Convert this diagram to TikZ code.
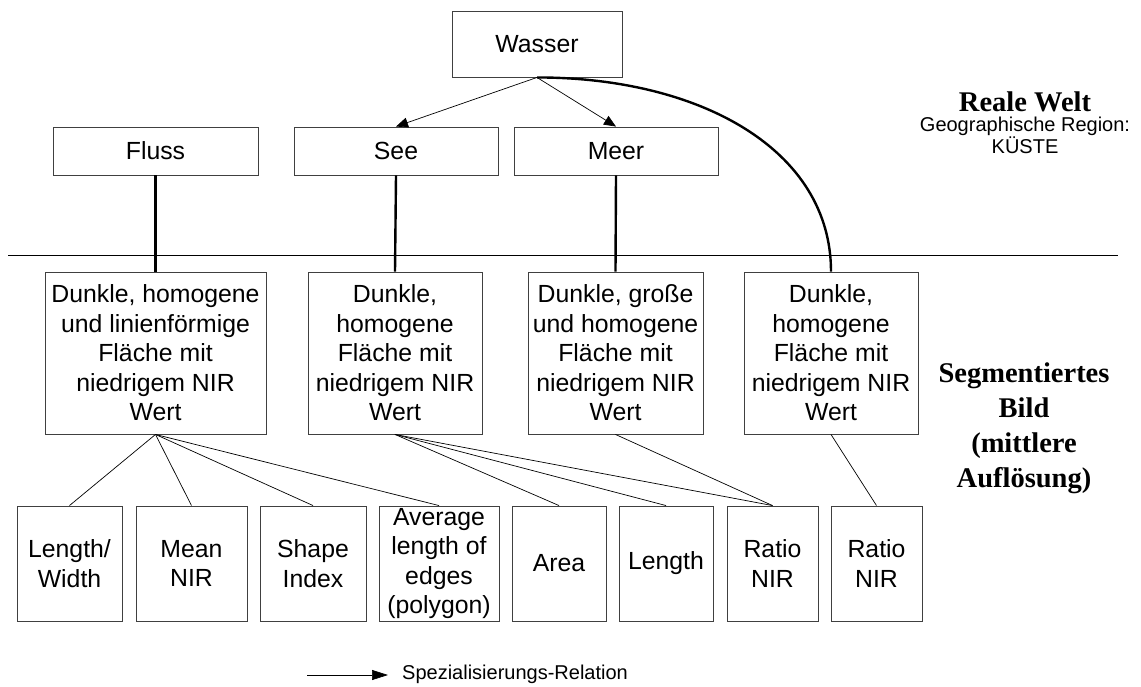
\documentclass[tikz,border=0pt]{standalone}
\usepackage{fontspec}
\setmainfont{Liberation Sans}
\newfontfamily\tnr{Liberation Serif}
\usetikzlibrary{arrows.meta,calc}
\tikzset{
  box/.style={draw=black!75, line width=0.9pt, inner sep=0pt, align=center,
    font=\fontsize{24.8}{29.5}\selectfont},
  conn/.style={draw=black, line width=0.7pt},
  thickconn/.style={draw=black, line width=2.4pt},
  spec/.style={draw=black, line width=0.7pt, -{Triangle[length=12pt,width=10pt]}},
}
\begin{document}
\begin{tikzpicture}[x=1pt,y=-1pt]
\useasboundingbox (0,0) rectangle (1141,686);
% top row
\node[box, minimum width=170pt, minimum height=66pt] (wasser) at (537,44) {Wasser};
\node[box, minimum width=205pt, minimum height=48pt] (fluss) at (155.5,151) {Fluss};
\node[box, minimum width=204pt, minimum height=48pt] (see) at (396,151) {See};
\node[box, minimum width=204pt, minimum height=48pt] (meer) at (616,151) {Meer};
% separator
\coordinate (sepL) at (8,255);
\coordinate (sepR) at (1118,255);
\draw[conn] (sepL) -- (sepR);
% middle row
\node[box, minimum width=221pt, minimum height=162pt] (m1) at (155.5,353)
  {Dunkle, homogene\\und linienförmige\\Fläche mit\\niedrigem NIR\\Wert};
\node[box, minimum width=174pt, minimum height=162pt] (m2) at (395,353)
  {Dunkle,\\homogene\\Fläche mit\\niedrigem NIR\\Wert};
\node[box, minimum width=175pt, minimum height=162pt] (m3) at (615.5,353)
  {Dunkle, große\\und homogene\\Fläche mit\\niedrigem NIR\\Wert};
\node[box, minimum width=174pt, minimum height=162pt] (m4) at (831,353)
  {Dunkle,\\homogene\\Fläche mit\\niedrigem NIR\\Wert};
% bottom row
\node[box, minimum width=105pt, minimum height=115pt] (b1) at (69.5,563.5) {Length/\\Width};
\node[box, minimum width=111pt, minimum height=115pt] (b2) at (191.5,563.5) {Mean\\NIR};
\node[box, minimum width=106pt, minimum height=115pt] (b3) at (313,563.5) {Shape\\Index};
\node[box, minimum width=120pt, minimum height=115pt] (b4) at (439,563.5) {Average\\length of\\edges\\(polygon)};
\node[box, minimum width=94pt, minimum height=115pt] (b5) at (559,563.5) {Area};
\node[box, minimum width=94pt, minimum height=115pt] (b6) at (666,563.5) {Length};
\node[box, minimum width=91pt, minimum height=115pt] (b7) at (772.5,563.5) {Ratio\\NIR};
\node[box, minimum width=91pt, minimum height=115pt] (b8) at (876.5,563.5) {Ratio\\NIR};
% specialisation arrows
\draw[spec] (wasser.south) -- (see.north);
\draw[spec] (wasser.south) -- (meer.north);
% thick links
\draw[thickconn] (fluss.south) -- (m1.north);
\draw[thickconn] (see.south) -- (m2.north);
\draw[thickconn] (meer.south) -- (m3.north);
\draw[thickconn] (wasser.south) .. controls +(163,0) and +(0,-122) .. (m4.north);
% thin links
\draw[conn] (m1.south) -- (b1.north);
\draw[conn] (m1.south) -- (b2.north);
\draw[conn] (m1.south) -- (b3.north);
\draw[conn] (m1.south) -- (b4.north);
\draw[conn] (m2.south) -- (b5.north);
\draw[conn] (m2.south) -- (b6.north);
\draw[conn] (m2.south) -- (b7.north);
\draw[conn] (m3.south) -- (b7.north);
\draw[conn] (m4.south) -- (b8.north);
% side labels
\node[align=center, font=\tnr\bfseries\fontsize{28.5}{30}\selectfont] (reale) at (1025,102) {Reale Welt};
\node[align=center, font=\fontsize{20}{22.5}\selectfont] (geo) at (1025,135.5) {Geographische Region:\\KÜSTE};
\node[align=center, font=\tnr\bfseries\fontsize{28.5}{35}\selectfont] (segm) at (1024,428) {Segmentiertes\\Bild\\(mittlere\\Auflösung)};
% legend
\coordinate (lgA) at (307,675);
\coordinate (lgB) at (388,675);
\draw[draw=black, line width=0.7pt, -{Triangle[length=16pt,width=10pt]}] (lgA) -- (lgB);
\node[anchor=west, inner sep=0pt, font=\fontsize{20}{22}\selectfont] (legend) at (402,674) {Spezialisierungs-Relation};
\end{tikzpicture}
\end{document}
